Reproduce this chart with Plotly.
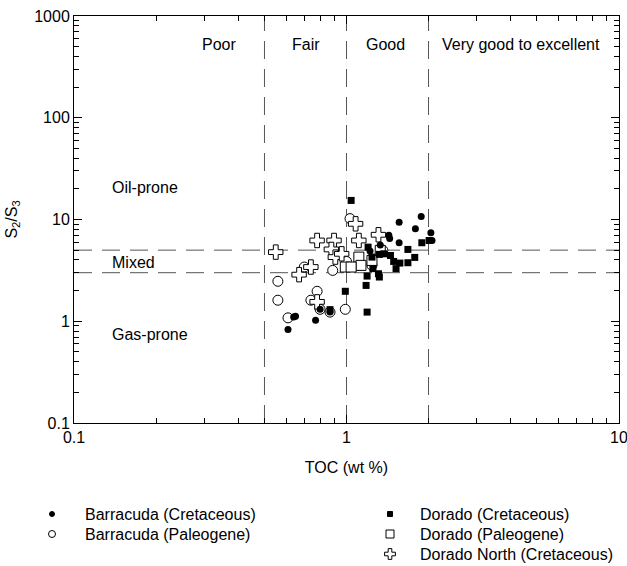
import math
import plotly.graph_objects as go

# ---- data (TOC wt %, S2/S3) ----
barracuda_cret_toc = [1.56, 1.88, 1.79, 2.04, 2.06, 1.56, 1.43, 1.44, 1.33, 1.22, 0.61, 0.65, 0.64, 0.77, 0.80, 0.87]
barracuda_cret_s = [9.4, 10.7, 8.1, 7.4, 6.2, 5.9, 7.0, 6.5, 5.6, 4.9, 0.83, 1.12, 1.10, 1.02, 1.31, 1.23]

barracuda_pal_toc = [1.03, 0.56, 0.56, 0.61, 0.70, 0.78, 0.74, 0.80, 0.87, 0.89, 0.99, 1.00, 1.11, 1.24, 1.36]
barracuda_pal_s = [10.2, 2.47, 1.61, 1.08, 3.41, 1.97, 1.61, 1.31, 1.23, 3.16, 1.31, 3.87, 3.54, 3.54, 4.97]

dorado_cret_toc = [1.04, 1.20, 1.32, 1.37, 1.45, 1.49, 1.57, 1.68, 1.78, 1.68, 1.52, 1.89, 2.01, 1.25, 1.19, 1.32, 1.31, 1.18, 0.99, 1.19, 0.87, 1.24]
dorado_cret_s = [15.4, 5.35, 4.54, 4.6, 4.43, 3.87, 3.73, 5.08, 4.24, 3.76, 3.29, 5.91, 6.22, 3.29, 2.78, 2.72, 2.93, 2.25, 1.97, 1.23, 1.30, 4.27]

dorado_pal_toc = [0.99, 1.11, 1.13, 1.04, 1.24, 1.33]
dorado_pal_s = [3.41, 4.27, 3.54, 3.41, 3.96, 4.97]

dorado_north_toc = [0.55, 0.78, 0.90, 0.88, 0.91, 0.96, 1.08, 1.11, 1.31, 0.74, 0.67, 0.78]
dorado_north_s = [4.78, 6.22, 6.22, 5.08, 4.27, 4.6, 9.07, 6.22, 7.08, 3.41, 2.87, 1.55]

toc_boundaries = [0.5, 1, 2]
ratio_boundaries = [3, 5]
maturity_labels = ["Poor", "Fair", "Good", "Very good to excellent"]
maturity_label_x = [0.34, 0.71, 1.39, 4.36]
kerogen_labels = ["Oil-prone", "Mixed", "Gas-prone"]
kerogen_label_y = [20.5, 3.8, 0.74]

series_names = ["Barracuda (Cretaceous)", "Barracuda (Paleogene)", "Dorado (Cretaceous)",
                "Dorado (Paleogene)", "Dorado North (Cretaceous)"]

W, H = 627, 566
PL, PR, PT, PB = 74, 619, 16, 423
FONT = "Liberation Sans, Arial, sans-serif"
FS = 16

fig = go.Figure()

data = [
    (barracuda_cret_toc, barracuda_cret_s),
    (barracuda_pal_toc, barracuda_pal_s),
    (dorado_cret_toc, dorado_cret_s),
    (dorado_pal_toc, dorado_pal_s),
    (dorado_north_toc, dorado_north_s),
]
syms = ["circle", "circle", "square", "square", "cross"]
sizes = [7, 10, 7, 10, 12]
fills = ["black", "white", "black", "white", "white"]
order = [1, 4, 3, 0, 2]
for i in order:
    xs, ys = data[i]
    fig.add_trace(go.Scatter(
        x=xs, y=ys, mode="markers", name=series_names[i], showlegend=False,
        marker=dict(symbol=syms[i], size=sizes[i], color=fills[i],
                    line=dict(color="black", width=1 if fills[i] == "white" else 0)),
        xaxis="x", yaxis="y"))

# dashed boundary lines
for xv in toc_boundaries:
    fig.add_shape(type="line", xref="x", yref="y", x0=xv, x1=xv, y0=0.1, y1=1000,
                  line=dict(color="#555555", width=1, dash="18px,10px"), layer="below")
for yv in ratio_boundaries:
    fig.add_shape(type="line", xref="x", yref="y", x0=0.1, x1=10, y0=yv, y1=yv,
                  line=dict(color="#555555", width=1, dash="18px,10px"), layer="below")

for t, xv in zip(maturity_labels, maturity_label_x):
    fig.add_annotation(x=math.log10(xv), y=math.log10(520),
                       xref="x", yref="y", text=t, showarrow=False,
                       font=dict(family=FONT, size=FS, color="black"))
for t, yv in zip(kerogen_labels, kerogen_label_y):
    fig.add_annotation(x=math.log10(0.136), y=math.log10(yv),
                       xref="x", yref="y", text=t, showarrow=False, xanchor="left",
                       font=dict(family=FONT, size=FS, color="black"))

# legend (manual, on a hidden full-page axis)
leg_mx = [52, 52, 390, 390, 390]
leg_tx = [83, 83, 418, 418, 418]
leg_y = [514, 534, 514, 534, 554]
leg_sizes = [5, 7, 5, 8, 9]
leg_syms = ["circle", "circle-open", "square", "square-open", "cross-open"]
for i in range(5):
    fig.add_trace(go.Scatter(x=[leg_mx[i]], y=[leg_y[i]], mode="markers", showlegend=False,
                             marker=dict(symbol=leg_syms[i], size=leg_sizes[i], color="black",
                                         line=dict(color="black", width=1)),
                             xaxis="x2", yaxis="y2", hoverinfo="skip"))
    fig.add_annotation(x=leg_tx[i], y=leg_y[i], xref="x2", yref="y2", text=series_names[i],
                       showarrow=False, xanchor="left",
                       font=dict(family=FONT, size=FS, color="black"))

axis_common = dict(type="log", showgrid=False, zeroline=False, showline=True, linecolor="black",
                   linewidth=1, mirror="ticks", ticks="inside", ticklen=8, tickcolor="black",
                   tickfont=dict(family=FONT, size=FS, color="black"), dtick=1,
                   ticklabeloverflow="allow",
                   minor=dict(ticks="inside", ticklen=5, tickcolor="black", dtick="D1", showgrid=False))

fig.update_layout(
    width=W, height=H, margin=dict(l=0, r=0, t=0, b=0),
    paper_bgcolor="white", plot_bgcolor="rgba(0,0,0,0)", showlegend=False,
    xaxis=dict(axis_common, range=[-1, 1], domain=[PL / W, PR / W],
               tickvals=[0.1, 1, 10], ticktext=["0.1", "1", "10"],
               title=dict(text="TOC (wt %)", font=dict(family=FONT, size=FS, color="black"), standoff=16),
               anchor="y", automargin=False),
    yaxis=dict(axis_common, range=[-1, 3], domain=[1 - PB / H, 1 - PT / H],
               tickvals=[0.1, 1, 10, 100, 1000], ticktext=["0.1", "1", "10", "100", "1000"],
               title=dict(text="S<sub>2</sub>/S<sub>3</sub>", font=dict(family=FONT, size=FS, color="black"), standoff=12),
               anchor="x", automargin=False),
    xaxis2=dict(range=[0, W], domain=[0, 1], visible=False, anchor="y2"),
    yaxis2=dict(range=[H, 0], domain=[0, 1], visible=False, anchor="x2"),
)

fig.write_html("out.html")
